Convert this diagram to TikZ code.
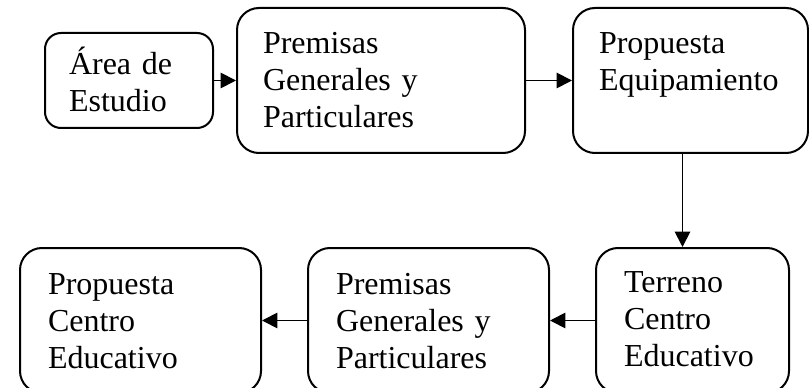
\documentclass[tikz,border=0pt]{standalone}
\usepackage{fontspec}
\setmainfont{Liberation Serif}
\usepackage{tikz}
\usetikzlibrary{arrows.meta}

\tikzset{
  caja/.style={draw, line width=1.5pt, anchor=north west, align=left, inner ysep=0pt,
    inner xsep=21pt, font=\fontsize{24}{27.75}\selectfont, rounded corners=16.5pt,
    text height=34.5pt, text depth=74.25pt},
  flecha/.style={line width=1.4pt, -{Triangle[length=11.5pt,width=11.5pt]}}
}

\begin{document}
\begin{tikzpicture}[x=0.75pt,y=-0.75pt]
\useasboundingbox (0,0) rectangle (809,388);

% fila de arriba
\node [caja, rounded corners=12pt, inner xsep=18pt, text width=90pt, text height=31.5pt, text depth=39.75pt] (area) at (44,32) {Área de\\Estudio};
\node [caja, inner xsep=19.5pt, text width=177pt] (premisasA) at (236,7) {Premisas\\Generales y\\Particulares};
\node [caja, inner xsep=19.5pt, text width=137.25pt] (equipamiento) at (572,7) {Propuesta\\Equipamiento};

% fila de abajo
\node [caja, text width=102.75pt, text height=33pt, text depth=75.75pt] (terreno) at (595,247) {Terreno\\Centro\\Educativo};
\node [caja, text width=138.75pt] (premisasB) at (307,247) {Premisas\\Generales y\\Particulares};
\node [caja, text width=138.75pt] (propuesta) at (19,247) {Propuesta\\Centro\\Educativo};

\draw [flecha] (area.east) -- (area.east -| premisasA.west);
\draw [flecha] (premisasA.east) -- (premisasA.east -| equipamiento.west);
\draw [flecha] ([xshift=-6pt]equipamiento.south) -- ([xshift=-6pt]equipamiento.south |- terreno.north);
\draw [flecha] (terreno.west) -- (terreno.west -| premisasB.east);
\draw [flecha] (premisasB.west) -- (premisasB.west -| propuesta.east);

\end{tikzpicture}
\end{document}
